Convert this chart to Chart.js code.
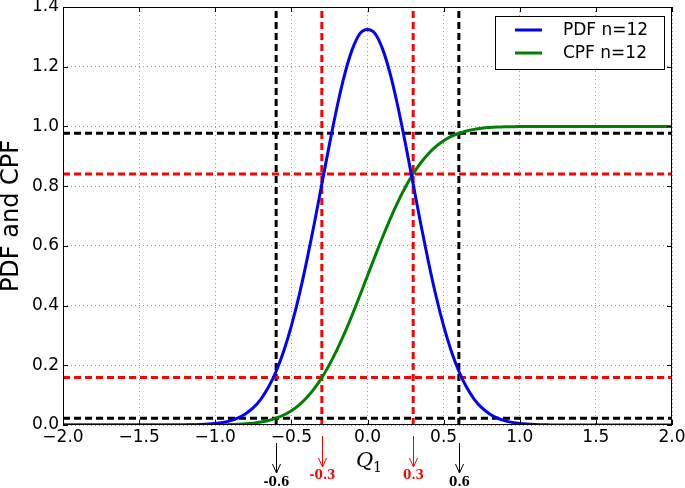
<!DOCTYPE html>
<html>
<head>
<meta charset="utf-8">
<script src="https://cdn.jsdelivr.net/npm/chart.js@4.4.0/dist/chart.umd.min.js"></script>
<style>
  body { margin: 0; background: #fff; }
  canvas { display: block; }
</style>
</head>
<body>
<canvas id="pdfChart" width="685" height="488"></canvas>
<script>
// ===== Data =====
const qValues = [
  -2.0, -1.9, -1.8, -1.7, -1.6, -1.5, -1.4, -1.3, -1.2, -1.1,
  -1.0, -0.95, -0.9, -0.85, -0.8, -0.75, -0.7, -0.65, -0.6, -0.55,
  -0.5, -0.45, -0.4, -0.35, -0.3, -0.25, -0.2, -0.15, -0.1, -0.05,
  0.0, 0.05, 0.1, 0.15, 0.2, 0.25, 0.3, 0.35, 0.4, 0.45,
  0.5, 0.55, 0.6, 0.65, 0.7, 0.75, 0.8, 0.85, 0.9, 0.95,
  1.0, 1.1, 1.2, 1.3, 1.4, 1.5, 1.6, 1.7, 1.8, 1.9, 2.0
];
const pdfValues = [
  0, 0, 0, 0, 0, 0, 0, 0, 0.0004, 0.0016,
  0.0051, 0.0088, 0.0148, 0.024, 0.038, 0.058, 0.087, 0.127, 0.18, 0.248,
  0.332, 0.432, 0.547, 0.673, 0.807, 0.94, 1.065, 1.174, 1.258, 1.311,
  1.325, 1.311, 1.258, 1.174, 1.065, 0.94, 0.807, 0.673, 0.547, 0.432,
  0.332, 0.248, 0.18, 0.127, 0.087, 0.058, 0.038, 0.024, 0.0148, 0.0088,
  0.0051, 0.0016, 0.0004, 0, 0, 0, 0, 0, 0, 0, 0
];
const cpfValues = [
  0, 0, 0, 0, 0, 0, 0, 0, 0, 0.0001,
  0.0004, 0.0008, 0.0013, 0.0023, 0.0038, 0.0062, 0.0098, 0.0151, 0.0228, 0.0334,
  0.0478, 0.0668, 0.0912, 0.1217, 0.1587, 0.2023, 0.2525, 0.3085, 0.3694, 0.4338,
  0.5, 0.5662, 0.6306, 0.6915, 0.7475, 0.7977, 0.8413, 0.8783, 0.9088, 0.9332,
  0.9522, 0.9666, 0.9772, 0.9849, 0.9902, 0.9938, 0.9962, 0.9977, 0.9987, 0.9992,
  0.9996, 0.9999, 1, 1, 1, 1, 1, 1, 1, 1, 1
];
const seriesLabels = ["PDF n=12", "CPF n=12"];
const seriesColors = ["#0000ff", "#008000"];

// dashed guide lines
const vLines = [-0.6, -0.3, 0.3, 0.6];
const vLineColors = ["#000000", "#ff0000", "#ff0000", "#000000"];
const hLines = [0.023, 0.159, 0.841, 0.977];
const hLineColors = ["#000000", "#ff0000", "#ff0000", "#000000"];

// arrows under the axis
const markLabels = ["-0.6", "-0.3", "0.3", "0.6"];

const xTicks = [-2.0, -1.5, -1.0, -0.5, 0.0, 0.5, 1.0, 1.5, 2.0];
const yTicks = [0.0, 0.2, 0.4, 0.6, 0.8, 1.0, 1.2, 1.4];

const fmt = (v) => v.toFixed(1).replace("-", "\u2212");

// ===== Datasets =====
const curves = [pdfValues, cpfValues].map((vals, i) => ({
  label: seriesLabels[i],
  data: qValues.map((q, k) => ({ x: q, y: vals[k] })),
  borderColor: seriesColors[i],
  borderWidth: 3,
  showLine: true,
  pointRadius: 0,
  cubicInterpolationMode: "monotone",
  order: 0,
}));

const guides = [];
hLines.forEach((h, i) => {
  guides.push({
    label: "",
    data: [{ x: -2, y: h }, { x: 2, y: h }],
    borderColor: hLineColors[i],
    borderWidth: 3,
    borderDash: [7, 4],
    showLine: true,
    pointRadius: 0,
    order: 1,
  });
});
vLines.forEach((v, i) => {
  guides.push({
    label: "",
    data: [{ x: v, y: 0 }, { x: v, y: 1.4 }],
    borderColor: vLineColors[i],
    borderWidth: 3,
    borderDash: [7, 4],
    showLine: true,
    pointRadius: 0,
    order: 1,
  });
});

// ===== Extras: frame, inner ticks, legend, axis title, arrows =====
const extras = {
  id: "extras",
  afterDraw(chart) {
    const ctx = chart.ctx;
    const a = chart.chartArea;
    const xs = chart.scales.x;
    const ys = chart.scales.y;
    ctx.save();

    // frame
    ctx.strokeStyle = "#000";
    ctx.lineWidth = 1;
    ctx.strokeRect(a.left + 0.5, a.top + 0.5, a.right - a.left - 1, a.bottom - a.top - 1);

    // inward ticks on all four sides
    ctx.beginPath();
    xTicks.forEach((t) => {
      const px = Math.round(xs.getPixelForValue(t)) + 0.5;
      ctx.moveTo(px, a.bottom); ctx.lineTo(px, a.bottom - 5);
      ctx.moveTo(px, a.top); ctx.lineTo(px, a.top + 5);
    });
    yTicks.forEach((t) => {
      const py = Math.round(ys.getPixelForValue(t)) + 0.5;
      ctx.moveTo(a.left, py); ctx.lineTo(a.left + 5, py);
      ctx.moveTo(a.right, py); ctx.lineTo(a.right - 5, py);
    });
    ctx.stroke();

    // legend
    const lx = 495, ly = 16, lw = 169, lh = 53;
    ctx.fillStyle = "#fff";
    ctx.fillRect(lx, ly, lw, lh);
    ctx.strokeStyle = "#000";
    ctx.strokeRect(lx + 0.5, ly + 0.5, lw, lh);
    ctx.font = "17px 'DejaVu Sans'";
    ctx.textBaseline = "middle";
    ctx.textAlign = "left";
    seriesLabels.forEach((lab, i) => {
      const y = 30 + i * 23;
      ctx.strokeStyle = seriesColors[i];
      ctx.lineWidth = 3;
      ctx.beginPath();
      ctx.moveTo(515, y); ctx.lineTo(542, y);
      ctx.stroke();
      ctx.fillStyle = "#000";
      ctx.fillText(lab, 563, y + 1);
    });

    // x axis title Q_1
    ctx.fillStyle = "#000";
    ctx.textBaseline = "alphabetic";
    ctx.font = "italic 21px 'DejaVu Serif'";
    ctx.fillText("Q", 356, 467);
    ctx.font = "14px 'DejaVu Serif'";
    ctx.fillText("1", 373, 472);

    // arrows + labels under the axis
    ctx.lineWidth = 1;
    ctx.textAlign = "center";
    ctx.textBaseline = "middle";
    ctx.font = "bold 12px 'DejaVu Serif'";
    vLines.forEach((v, i) => {
      const px = Math.round(xs.getPixelForValue(v)) + 0.5;
      const outer = Math.abs(v) > 0.45;
      const y0 = outer ? 443 : 436;
      const y1 = outer ? 473 : 467;
      ctx.strokeStyle = vLineColors[i];
      ctx.fillStyle = vLineColors[i];
      ctx.beginPath();
      ctx.moveTo(px, y0); ctx.lineTo(px, y1);
      ctx.moveTo(px - 4, y1 - 9); ctx.lineTo(px, y1); ctx.lineTo(px + 4, y1 - 9);
      ctx.stroke();
      ctx.fillText(markLabels[i], px, outer ? 483 : 476);
    });

    ctx.restore();
  },
};

// ===== Chart =====
const canvas = document.getElementById("pdfChart");
const ctx = canvas.getContext("2d");
const pdfChart = new Chart(ctx, {
  type: "scatter",
  data: { datasets: [...curves, ...guides] },
  options: {
    responsive: false,
    animation: false,
    layout: { padding: { top: 7, right: 13, left: 0, bottom: 0 } },
    plugins: {
      legend: { display: false },
      tooltip: { enabled: false },
    },
    scales: {
      x: {
        type: "linear",
        min: -2,
        max: 2,
        afterBuildTicks: (s) => { s.ticks = xTicks.map((v) => ({ value: v })); },
        afterFit: (s) => {
          s.height = 63;
          s.paddingLeft = 0;
          s.paddingRight = 0;
        },
        ticks: {
          callback: (v) => fmt(v),
          font: { family: "DejaVu Sans", size: 17 },
          color: "#000",
          padding: 2,
          maxRotation: 0,
        },
        grid: { color: "#999999", lineWidth: 1, drawTicks: false },
        border: { display: false, dash: [1, 3] },
      },
      y: {
        type: "linear",
        min: 0,
        max: 1.4,
        afterBuildTicks: (s) => { s.ticks = yTicks.map((v) => ({ value: v })); },
        afterFit: (s) => {
          s.width = 63;
          s.paddingTop = 0;
          s.paddingBottom = 0;
        },
        ticks: {
          callback: (v) => fmt(v),
          font: { family: "DejaVu Sans", size: 17 },
          color: "#000",
          padding: 4,
        },
        title: {
          display: true,
          text: "PDF and CPF",
          font: { family: "DejaVu Sans", size: 24, lineHeight: 1.0 },
          color: "#000",
          padding: 0,
        },
        grid: { color: "#999999", lineWidth: 1, drawTicks: false },
        border: { display: false, dash: [1, 3] },
      },
    },
  },
  plugins: [extras],
});
</script>
</body>
</html>
